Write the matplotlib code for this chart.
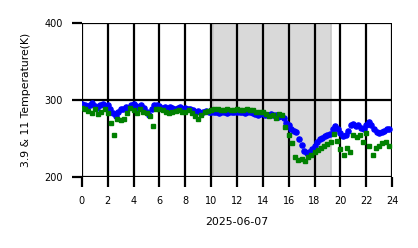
import numpy as np
import matplotlib
matplotlib.use("Agg")
import matplotlib.pyplot as plt

# 3.9 um brightness temperature, one reading every 0.2 h
blue_hours = np.arange(0, 24, 0.2)
blue_temp = [295, 293, 291, 294, 296, 292, 290, 293, 295, 292,
             294, 288, 283, 279, 284, 288, 289, 291, 290, 293,
             295, 292, 290, 293, 290, 285, 280, 288, 293, 294,
             292, 290, 291, 289, 291, 290, 289, 290, 291, 289,
             290, 288, 289, 287, 284, 286, 283, 285, 286, 284,
             285, 284, 285, 283, 284, 284, 283, 285, 284, 284,
             284, 285, 284, 283, 284, 285, 283, 282, 281, 282,
             283, 281, 280, 282, 281, 280, 278, 279, 277, 270,
             268, 262, 260, 258, 250, 242, 234, 231, 233, 237,
             241, 245, 249, 251, 253, 254, 256, 262, 266, 262,
             257, 253, 255, 260, 267, 269, 266, 268, 264, 263,
             268, 271, 267, 262, 258, 257, 259, 260, 262, 263]

# 11 um brightness temperature, one reading every 0.25 h
green_hours = np.arange(0, 24, 0.25)
green_temp = [290, 288, 286, 283, 288, 282, 285, 289,
              283, 270, 254, 276, 274, 275, 283, 290,
              287, 283, 288, 284, 283, 279, 266, 288,
              289, 287, 285, 283, 284, 286, 287, 285,
              284, 287, 283, 279, 276, 281, 285, 286,
              287, 288, 288, 287, 287, 288, 287, 287,
              288, 287, 287, 288, 287, 287, 285, 284,
              285, 282, 279, 281, 277, 282, 280, 265,
              254, 244, 226, 222, 224, 221, 226, 229,
              232, 235, 238, 240, 243, 246, 256, 247,
              236, 229, 238, 232, 254, 252, 254, 245,
              257, 241, 229, 238, 240, 244, 246, 240]

shade_start, shade_end = 10.15, 19.25
xticks = list(range(0, 25, 2))
yticks = [200, 300, 400]

fig = plt.figure(figsize=(4.18, 2.48), dpi=100)
ax = fig.add_axes([0.196, 0.286, 0.742, 0.621])

ax.axvspan(shade_start, shade_end, facecolor='#d9d9d9', edgecolor='#c6c6c6', lw=1.2, zorder=0)

ax.plot(blue_hours, blue_temp, 'o', color='blue', ms=3.7, mec='blue', zorder=3)
ax.plot(green_hours, green_temp, 's', color='green', ms=3.0, mec='green', zorder=4)

ax.set_xlim(0, 24)
ax.set_ylim(200, 400)
ax.set_xticks(xticks)
ax.set_yticks(yticks)
ax.grid(True, color='black', lw=1.6, zorder=2)
ax.set_axisbelow(False)
for s in ax.spines.values():
    s.set_visible(False)
ax.tick_params(axis='both', length=7.5, width=1.6, labelsize=7)
ax.tick_params(axis='y', pad=6)
ax.tick_params(axis='x', pad=6)

ax.set_xlabel('2025-06-07', fontsize=7.8, labelpad=8)
ax.set_ylabel('3.9 & 11 Temperature(K)', fontsize=7.8, labelpad=10)

plt.savefig('out.png', dpi=100)
plt.close('all')
